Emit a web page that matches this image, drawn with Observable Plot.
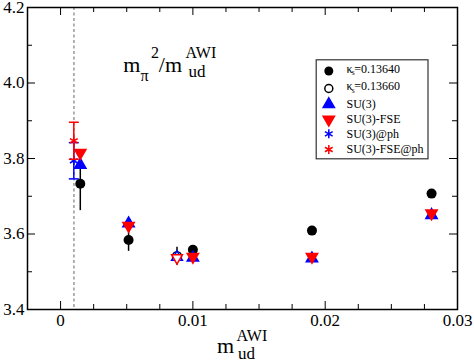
<!DOCTYPE html>
<html><head><meta charset="utf-8">
<script src="https://cdn.jsdelivr.net/npm/d3@7"></script>
<script src="https://cdn.jsdelivr.net/npm/@observablehq/plot@0.6"></script>
<style>body{margin:0;background:#fff} svg{display:block} svg text{font-family:"Liberation Serif", serif !important}</style>
</head><body><div id="chart"></div>
<script>
// tick values
const xMajor = [0, 0.01, 0.02, 0.03];
const xMinor = [0.0025, 0.005, 0.0075, 0.0125, 0.015, 0.0175, 0.0225, 0.025, 0.0275];
const yMajor = [3.4, 3.6, 3.8, 4.0, 4.2];
const yMinor = [3.5, 3.7, 3.9, 4.1];
// physical point
const physX = [0.00101];
// kappa_s = 0.13640 (filled circles)
const k40X = [0.00149, 0.00514, 0.0100, 0.0190, 0.02804];
const k40Y = [3.733, 3.584, 3.558, 3.609, 3.707];
const k40E = [0.071, 0.030, 0.010, 0.004, 0.004];
// kappa_s = 0.13660 (open circle)
const k60X = [0.0088];
const k60Y = [3.541];
const k60E = [0.024];
// SU(3) fits
const suX = [0.00149, 0.00514, 0.0088, 0.0100, 0.0190, 0.02804];
const suOpen = [false, false, true, false, false, false];
const su3Y = [3.783, 3.628, 3.539, 3.537, 3.535, 3.650];
const fseY = [3.815, 3.622, 3.537, 3.540, 3.540, 3.655];
// at physical point
const phX = [0.0010];
const su3phY = [3.794];
const su3phE = [0.048];
const fsephY = [3.847];
const fsephE = [0.049];
// legend
const legendLabels = ["SU(3)", "SU(3)-FSE", "SU(3)@ph", "SU(3)-FSE@ph"];

const FONT = "Liberation Serif, serif";
const W = 474, H = 362, ML = 27, MR = 17, MT = 7, MB = 53;
const FW = W - ML - MR, FH = H - MT - MB;

const k40 = k40X.map((x, i) => ({x, y: k40Y[i], lo: k40Y[i] - k40E[i], hi: k40Y[i] + k40E[i]}));
const k60 = k60X.map((x, i) => ({x, y: k60Y[i], lo: k60Y[i] - k60E[i], hi: k60Y[i] + k60E[i]}));
const su = suX.map((x, i) => ({x, su3: su3Y[i], fse: fseY[i], open: suOpen[i]}));
const ph1 = phX.map((x, i) => ({x, y: su3phY[i], lo: su3phY[i] - su3phE[i], hi: su3phY[i] + su3phE[i]}));
const ph2 = phX.map((x, i) => ({x, y: fsephY[i], lo: fsephY[i] - fsephE[i], hi: fsephY[i] + fsephE[i]}));

const cap = {draw(ctx) { ctx.moveTo(-5, 0); ctx.lineTo(5, 0); }};

function txt(s, dx, dy, size) {
  return Plot.text([s], {text: d => d, frameAnchor: "top-left", dx: dx - ML, dy: dy - MT,
    textAnchor: "start", lineAnchor: "bottom", fontSize: size, fontFamily: FONT, fill: "black"});
}

const legendRows = [
  {sym: "circle", r: 4.5, fill: "black", stroke: "none", rot: 0, sy: 70.5},
  {sym: "circle", r: 4, fill: "white", stroke: "black", rot: 0, sy: 88},
  {sym: "triangle", r: 4.2, fill: "blue", stroke: "blue", rot: 0, sy: 103.8},
  {sym: "triangle", r: 4.2, fill: "red", stroke: "red", rot: 180, sy: 119},
  {sym: "asterisk", r: 4.2, fill: "none", stroke: "blue", rot: 0, sy: 133.3},
  {sym: "asterisk", r: 4.2, fill: "none", stroke: "red", rot: 0, sy: 149}
];
const legendMarks = legendRows.map(d => Plot.dot([d], {frameAnchor: "top-left", dx: 328.3 - ML, dy: d.sy - MT,
  symbol: d.sym, r: d.r, fill: d.fill, stroke: d.stroke, rotate: d.rot, strokeWidth: 1.5}));

const legendText = [
  txt("κ", 346, 72, 12), txt("s", 351.3, 74.5, 7.5), txt("=0.13640", 353.8, 72, 12),
  txt("κ", 346, 89.5, 12), txt("s", 351.3, 92, 7.5), txt("=0.13660", 353.8, 89.5, 12),
  ...legendLabels.map((s, i) => txt(s, 346, [107, 122, 137, 152][i], 12))
];

const chart = Plot.plot({
  width: W, height: H, marginLeft: ML, marginRight: MR, marginTop: MT, marginBottom: MB,
  style: {fontFamily: FONT, background: "white", overflow: "visible"},
  x: {domain: [-0.0025, 0.03]},
  y: {domain: [3.4, 4.2]},
  marks: [
    Plot.ruleX(physX, {x: d => d, stroke: "#999", strokeWidth: 1.5, strokeDasharray: "3,2.5"}),
    // inward ticks
    Plot.tickX(xMajor, {x: d => d, insetTop: FH - 8}),
    Plot.tickX(xMajor, {x: d => d, insetBottom: FH - 8}),
    Plot.tickX(xMinor, {x: d => d, insetTop: FH - 5}),
    Plot.tickX(xMinor, {x: d => d, insetBottom: FH - 5}),
    Plot.tickY(yMajor, {y: d => d, insetRight: FW - 8}),
    Plot.tickY(yMajor, {y: d => d, insetLeft: FW - 8}),
    Plot.tickY(yMinor, {y: d => d, insetRight: FW - 5}),
    Plot.tickY(yMinor, {y: d => d, insetLeft: FW - 5}),
    Plot.frame({stroke: "black", strokeWidth: 1.5}),
    Plot.axisX({ticks: xMajor, tickSize: 0, tickPadding: 4, fontSize: 17, fontFamily: FONT,
      tickFormat: d => String(d), label: null}),
    Plot.axisY({ticks: yMajor, tickSize: 0, tickPadding: 3, fontSize: 17, fontFamily: FONT,
      tickFormat: d => d.toFixed(1), label: null}),
    // kappa_s = 0.13640
    Plot.ruleX(k40, {x: "x", y1: "lo", y2: "hi", stroke: "black", strokeWidth: 1.5}),
    Plot.dot(k40, {x: "x", y: "y", r: 5, fill: "black"}),
    // kappa_s = 0.13660
    Plot.ruleX(k60, {x: "x", y1: "lo", y2: "hi", stroke: "black", strokeWidth: 1.5}),
    Plot.dot(k60, {x: "x", y: "y", r: 4.5, fill: "white", stroke: "black", strokeWidth: 1.5}),
    // SU(3)
    Plot.dot(su.filter(d => !d.open), {x: "x", y: "su3", symbol: "triangle", r: 4.2, fill: "blue", stroke: "blue"}),
    Plot.dot(su.filter(d => d.open), {x: "x", y: "su3", symbol: "triangle", r: 4, fill: "white", stroke: "blue", strokeWidth: 1.5}),
    // SU(3)-FSE
    Plot.dot(su.filter(d => !d.open), {x: "x", y: "fse", symbol: "triangle", rotate: 180, r: 4.2, fill: "red", stroke: "red"}),
    Plot.dot(su.filter(d => d.open), {x: "x", y: "fse", symbol: "triangle", rotate: 180, r: 4, fill: "white", stroke: "red", strokeWidth: 1.5}),
    // SU(3)@ph
    Plot.ruleX(ph1, {x: "x", y1: "lo", y2: "hi", stroke: "blue", strokeWidth: 1.5}),
    Plot.dot(ph1, {x: "x", y: "lo", symbol: cap, fill: "none", stroke: "blue", strokeWidth: 1.5}),
    Plot.dot(ph1, {x: "x", y: "hi", symbol: cap, fill: "none", stroke: "blue", strokeWidth: 1.5}),
    Plot.dot(ph1, {x: "x", y: "y", symbol: "asterisk", r: 4.2, stroke: "blue", strokeWidth: 1.5}),
    // SU(3)-FSE@ph
    Plot.ruleX(ph2, {x: "x", y1: "lo", y2: "hi", stroke: "red", strokeWidth: 1.5}),
    Plot.dot(ph2, {x: "x", y: "lo", symbol: cap, fill: "none", stroke: "red", strokeWidth: 1.5}),
    Plot.dot(ph2, {x: "x", y: "hi", symbol: cap, fill: "none", stroke: "red", strokeWidth: 1.5}),
    Plot.dot(ph2, {x: "x", y: "y", symbol: "asterisk", r: 4.2, stroke: "red", strokeWidth: 1.5}),
    // legend box
    Plot.frame({fill: "white", stroke: "#333", strokeWidth: 1.2,
      insetLeft: 315.7 - ML, insetRight: (W - MR) - 427.5, insetTop: 59.3 - MT, insetBottom: (H - MB) - 158.3}),
    ...legendMarks,
    ...legendText,
    // annotation
    txt("m", 122.7, 71, 22), txt("π", 140, 80, 16), txt("2", 150.5, 57, 16),
    txt("/m", 158.3, 71, 22), txt("AWI", 185, 57, 16), txt("ud", 188, 76, 17),
    // x-axis label
    txt("m", 216.5, 352, 22), txt("AWI", 236, 340, 16), txt("ud", 237.5, 358, 17)
  ]
});
document.getElementById("chart").appendChild(chart);
</script>
</body></html>
